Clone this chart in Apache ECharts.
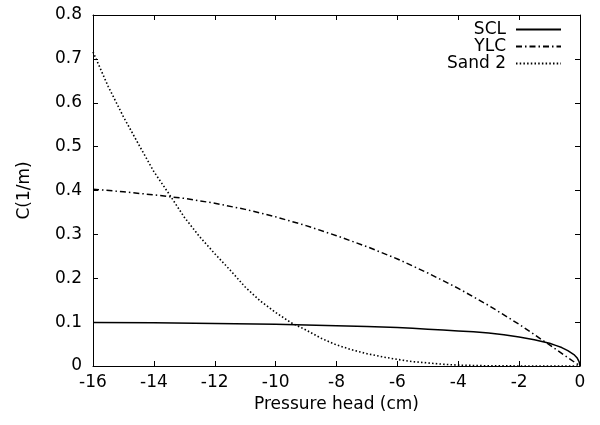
<!DOCTYPE html>
<html>
<head>
<meta charset="utf-8">
<script src="https://cdn.jsdelivr.net/npm/echarts@6/dist/echarts.min.js"></script>
<style>html,body{margin:0;padding:0;background:#fff;}#c{width:600px;height:425px;}</style>
</head>
<body>
<div id="c"></div>
<script>
var seriesNames = ['SCL', 'YLC', 'Sand 2'];
var xTicks = [-16, -14, -12, -10, -8, -6, -4, -2, 0];
var yTicks = [0, 0.1, 0.2, 0.3, 0.4, 0.5, 0.6, 0.7, 0.8];

var sclH = [-16, -14, -12, -10, -8, -7, -6, -5.5, -5, -4.5, -4, -3.5, -3, -2.5, -2, -1.5, -1.25, -1, -0.8, -0.6, -0.4, -0.2, -0.1, -0.03, 0];
var sclC = [0.099, 0.0985, 0.097, 0.095, 0.092, 0.090, 0.088, 0.086, 0.084, 0.082, 0.080, 0.078, 0.075, 0.071, 0.066, 0.060, 0.056, 0.052, 0.047, 0.042, 0.035, 0.026, 0.019, 0.010, 0];

var ylcH = [-16, -15, -14, -13, -12, -11, -10, -9, -8, -7, -6, -5, -4, -3, -2, -1, 0];
var ylcC = [0.403, 0.397, 0.390, 0.382, 0.371, 0.357, 0.340, 0.320, 0.297, 0.272, 0.244, 0.212, 0.177, 0.138, 0.095, 0.048, 0];

var sandH = [-16, -15.5, -15, -14.5, -14, -13.5, -13, -12.5, -12, -11.5, -11, -10.5, -10, -9.5, -9, -8.5, -8, -7.5, -7, -6.5, -6, -5.5, -5, -4.5, -4, -3, -2, -1, 0];
var sandC = [0.716, 0.637, 0.568, 0.505, 0.443, 0.392, 0.339, 0.295, 0.256, 0.219, 0.180, 0.148, 0.122, 0.099, 0.082, 0.063, 0.048, 0.037, 0.028, 0.021, 0.015, 0.010, 0.007, 0.004, 0.002, 0.0005, 0.0001, 0, 0];

function pairs(h, c) { return h.map(function (v, i) { return [v, c[i]]; }); }

var FONT = 'DejaVu Sans';
var FS = 17;
var chart = echarts.init(document.getElementById('c'), null, {renderer: 'canvas'});

var axisCommon = {
  axisLine: {show: true, onZero: false, lineStyle: {color: '#000', width: 1}},
  axisTick: {show: true, inside: true, length: 5, lineStyle: {color: '#000', width: 1}},
  splitLine: {show: false}
};

chart.setOption({
  animation: false,
  backgroundColor: '#fff',
  textStyle: {fontFamily: FONT, color: '#000'},
  grid: {left: 93, right: 20, top: 15, bottom: 59, containLabel: false},
  legend: {
    orient: 'vertical',
    align: 'right',
    right: 33,
    top: 16,
    itemWidth: 45,
    itemHeight: 10,
    itemGap: 0,
    itemStyle: {opacity: 0, borderWidth: 0},
    textStyle: {fontFamily: FONT, fontSize: FS, color: '#000', lineHeight: 16, padding: [0, 5, 0, 0]},
    data: seriesNames
  },
  xAxis: [
    Object.assign({}, axisCommon, {
      type: 'value', position: 'bottom', min: xTicks[0], max: xTicks[xTicks.length - 1], interval: 2,
      name: 'Pressure head (cm)', nameLocation: 'middle', nameGap: 30,
      nameTextStyle: {fontFamily: FONT, fontSize: FS, color: '#000'},
      axisLabel: {fontFamily: FONT, fontSize: FS, color: '#000', margin: 8, showMinLabel: true, showMaxLabel: true}
    }),
    Object.assign({}, axisCommon, {
      type: 'value', position: 'top', min: xTicks[0], max: xTicks[xTicks.length - 1], interval: 2,
      axisLabel: {show: false}
    })
  ],
  yAxis: [
    Object.assign({}, axisCommon, {
      type: 'value', position: 'left', min: yTicks[0], max: yTicks[yTicks.length - 1], interval: 0.1,
      name: 'C(1/m)', nameLocation: 'middle', nameGap: 60, nameRotate: 90,
      nameTextStyle: {fontFamily: FONT, fontSize: FS, color: '#000'},
      axisLabel: {fontFamily: FONT, fontSize: FS, color: '#000', margin: 11,
        formatter: function (v) { return String(Math.round(v * 10) / 10); }}
    }),
    Object.assign({}, axisCommon, {
      type: 'value', position: 'right', min: yTicks[0], max: yTicks[yTicks.length - 1], interval: 0.1,
      axisLabel: {show: false}
    })
  ],
  series: [
    {
      name: seriesNames[0], type: 'line', xAxisIndex: 0, yAxisIndex: 0,
      data: pairs(sclH, sclC), symbol: 'none', smooth: false,
      lineStyle: {color: '#000', width: 1.5, type: 'solid'}, itemStyle: {color: '#000'}
    },
    {
      name: seriesNames[1], type: 'line', xAxisIndex: 0, yAxisIndex: 0,
      data: pairs(ylcH, ylcC), symbol: 'none', smooth: false,
      lineStyle: {color: '#000', width: 1.5, type: [6, 3, 1.5, 3]}, itemStyle: {color: '#000'}
    },
    {
      name: seriesNames[2], type: 'line', xAxisIndex: 0, yAxisIndex: 0,
      data: pairs(sandH, sandC), symbol: 'none', smooth: false,
      lineStyle: {color: '#000', width: 1.6, type: [1.5, 2.2]}, itemStyle: {color: '#000'}
    }
  ]
});
</script>
</body>
</html>
